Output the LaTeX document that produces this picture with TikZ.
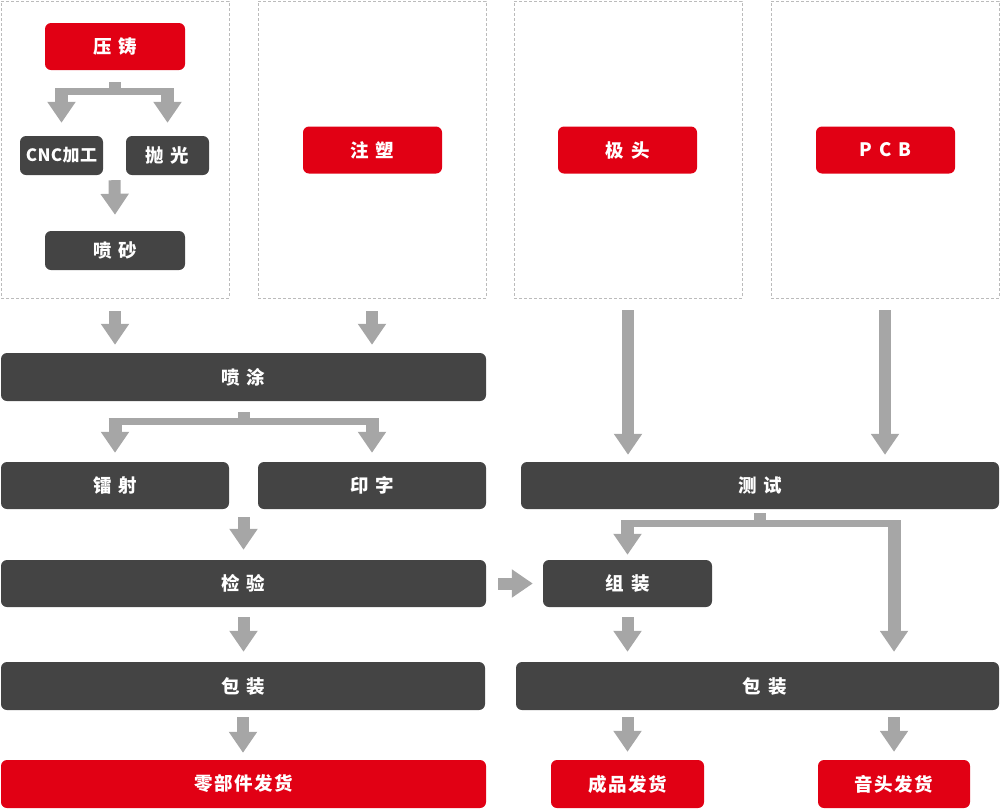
\documentclass[tikz,border=0pt]{standalone}
\usepackage{fontspec}
\newfontfamily\cjk{Noto Sans CJK SC}[LetterSpace=8]
\newfontfamily\cjknarrow{Noto Sans CJK SC}[LetterSpace=2]
\usetikzlibrary{arrows.meta,calc}
\definecolor{rd}{HTML}{E10014}
\definecolor{dk}{HTML}{444444}
\definecolor{ag}{HTML}{A6A6A6}
\definecolor{dg}{HTML}{BBBBBB}
\tikzset{
  box/.style={rounded corners=6pt, inner sep=0pt, text=white,
    font=\cjk\bfseries\fontsize{18.5}{20}\selectfont},
  redbox/.style={box, fill=rd},
  darkbox/.style={box, fill=dk},
  grp/.style={draw=dg, dashed, dash pattern=on 3pt off 2pt, line width=0.8pt, inner sep=0pt,
    minimum width=228pt, minimum height=297pt},
  fat/.style={draw=ag, line width=12pt, -{Triangle[width=27pt,length=21pt]}},
  branch/.style={fat, line width=13pt},
  stemline/.style={draw=ag, line width=12pt},
  barline/.style={draw=ag, line width=7pt}
}
\begin{document}
\begin{tikzpicture}[x=1pt,y=-1pt]
\useasboundingbox (0,0) rectangle (1000,809);
% groups
\node[grp] (g1) at (115,149.5) {};
\node[grp] (g2) at (372,149.5) {};
\node[grp] (g3) at (628,149.5) {};
\node[grp] (g4) at (885,149.5) {};
% nodes
\node[redbox, minimum width=140pt, minimum height=47pt] (yz) at (115,46.5) {压\hspace{7pt}铸};
\node[darkbox, minimum width=83pt, minimum height=39pt, font=\cjknarrow\bfseries\fontsize{17}{19}\selectfont] (cnc) at (61.5,155.5) {CNC加工};
\node[darkbox, minimum width=83pt, minimum height=39pt] (pg) at (167.5,155.5) {抛\hspace{7pt}光};
\node[darkbox, minimum width=140pt, minimum height=39pt] (ps) at (115,250.5) {喷\hspace{7pt}砂};
\node[redbox, minimum width=139pt, minimum height=47pt] (zs) at (372.5,150) {注\hspace{7pt}塑};
\node[redbox, minimum width=139pt, minimum height=47pt] (jt) at (627.5,150) {极\hspace{7pt}头};
\node[redbox, minimum width=139pt, minimum height=47pt] (pcb) at (885.5,150) {P\hspace{7pt}C\hspace{7pt}B};
\node[darkbox, minimum width=485pt, minimum height=48pt] (pt) at (243.5,377) {喷\hspace{7pt}涂};
\node[darkbox, minimum width=228pt, minimum height=47pt] (ls) at (115,485.5) {镭\hspace{7pt}射};
\node[darkbox, minimum width=228pt, minimum height=47pt] (yzi) at (372,485.5) {印\hspace{7pt}字};
\node[darkbox, minimum width=478pt, minimum height=47pt] (cs) at (760,485.5) {测\hspace{7pt}试};
\node[darkbox, minimum width=485pt, minimum height=47pt] (jy) at (243.5,583.5) {检\hspace{7pt}验};
\node[darkbox, minimum width=169pt, minimum height=47pt] (zz) at (627.5,583.5) {组\hspace{7pt}装};
\node[darkbox, minimum width=484pt, minimum height=48pt] (bzl) at (243,686) {包\hspace{7pt}装};
\node[darkbox, minimum width=483pt, minimum height=48pt] (bzr) at (757.5,686) {\hspace{14pt}包\hspace{7pt}装};
\node[redbox, minimum width=485pt, minimum height=48pt] (lbj) at (243.5,784) {零部件发货};
\node[redbox, minimum width=153pt, minimum height=48pt] (cp) at (627.5,784) {成品发货};
\node[redbox, minimum width=152pt, minimum height=48pt] (yt) at (894,784) {音头发货};
% split 1
\coordinate (b1) at (115,91.5);
\draw[stemline] ([yshift=-12pt]yz.south) -- (yz.south |- b1);
\draw[barline] ([xshift=-6.5pt]cnc.north |- b1) -- ([xshift=6.5pt]pg.north |- b1);
\draw[branch] ([yshift=3.5pt]cnc.north |- b1) -- ([yshift=13pt]cnc.north);
\draw[branch] ([yshift=3.5pt]pg.north |- b1) -- ([yshift=13pt]pg.north);
% cnc -> ps
\draw[fat] ([yshift=-5pt]$(cnc.south)!0.5!(pg.south)$) -- ([yshift=16pt]ps.north);
% groups -> pt
\draw[fat] ([yshift=-13pt]g1.south) -- ([yshift=8pt]g1.south |- pt.north);
\draw[fat] ([yshift=-13pt]g2.south) -- ([yshift=8pt]g2.south |- pt.north);
% split 2
\coordinate (b2) at (243,421.5);
\draw[stemline] ([yshift=-11pt]pt.south) -- (pt.south |- b2);
\draw[barline] ([xshift=-6.5pt]ls.north |- b2) -- ([xshift=6.5pt]yzi.north |- b2);
\draw[branch] ([yshift=3.5pt]ls.north |- b2) -- ([yshift=9pt]ls.north);
\draw[branch] ([yshift=3.5pt]yzi.north |- b2) -- ([yshift=9pt]yzi.north);
% ls/yzi -> jy
\draw[fat] ([yshift=-8pt]$(ls.south)!0.5!(yzi.south)$) -- ([yshift=10pt]jy.north);
% g3,g4 -> cs
\draw[fat] ([yshift=-12pt]g3.south) -- ([yshift=7pt]g3.south |- cs.north);
\draw[fat] ([yshift=-12pt]g4.south) -- ([yshift=7pt]g4.south |- cs.north);
% split 3
\coordinate (b3) at (760,523.5);
\draw[stemline] ([yshift=-4pt]cs.south) -- (cs.south |- b3);
\draw[barline] ([xshift=-6.5pt]zz.north |- b3) -- ([xshift=6.5pt]yt.north |- b3);
\draw[branch] ([yshift=3.5pt]zz.north |- b3) -- ([yshift=5pt]zz.north);
\draw[branch] ([yshift=3.5pt]yt.north |- b3) -- ([yshift=10pt]yt.north |- bzr.north);
% jy -> zz
\draw[fat] ([xshift=12pt]jy.east) -- ([xshift=-10pt]zz.west);
% vertical arrows
\draw[fat] ([yshift=-10pt]jy.south) -- ([yshift=10pt]jy.south |- bzl.north);
\draw[fat] ([yshift=-7pt]bzl.south) -- ([yshift=7pt]bzl.south |- lbj.north);
\draw[fat] ([yshift=-10pt]zz.south) -- ([yshift=10pt]zz.south |- bzr.north);
\draw[fat] ([yshift=-7pt]cp.north |- bzr.south) -- ([yshift=8pt]cp.north);
\draw[fat] ([yshift=-7pt]yt.north |- bzr.south) -- ([yshift=8pt]yt.north);
\end{tikzpicture}
\end{document}
